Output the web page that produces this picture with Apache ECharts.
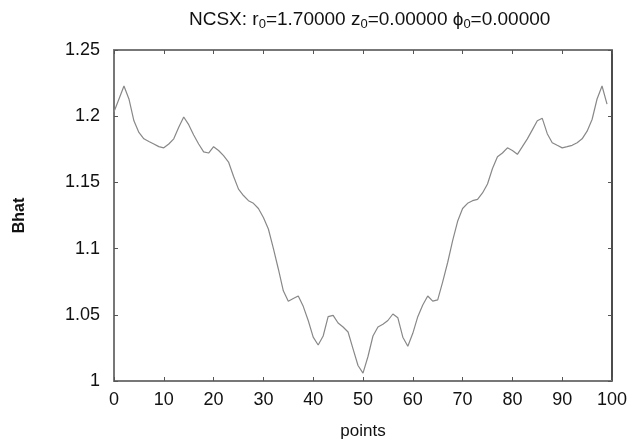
<!DOCTYPE html>
<html><head><meta charset="utf-8">
<script src="https://cdn.jsdelivr.net/npm/echarts@6/dist/echarts.min.js"></script>
<style>html,body{margin:0;padding:0;background:#fff}#c{width:632px;height:446px}</style>
</head><body><div id="c"></div>
<script>
const xTicks = [0,10,20,30,40,50,60,70,80,90,100];
const yTicks = [1,1.05,1.1,1.15,1.2,1.25];
const bhat = [
1.2033,1.213,1.2228,1.213,1.1965,1.1877,1.1829,1.1809,1.179,1.177,
1.1761,1.179,1.1829,1.1916,1.1994,1.1936,1.1858,1.179,1.1731,1.1722,
1.177,1.1741,1.1702,1.1654,1.1547,1.1449,1.1401,1.1362,1.1342,1.1303,
1.1235,1.1148,1.1002,1.0846,1.0681,1.0603,1.0623,1.0642,1.0564,1.0457,
1.0331,1.0272,1.034,1.0486,1.0496,1.0438,1.0408,1.037,1.0243,1.0117,
1.006,1.0185,1.034,1.0408,1.0428,1.0457,1.0506,1.0477,1.0331,1.0263,
1.036,1.0486,1.0574,1.0642,1.0603,1.0613,1.0749,1.0895,1.106,1.1206,
1.1303,1.1342,1.1362,1.1372,1.142,1.1488,1.1605,1.1693,1.1722,1.1761,
1.1741,1.1712,1.177,1.1829,1.1897,1.1965,1.1984,1.1868,1.18,1.178,
1.1761,1.177,1.178,1.18,1.1829,1.1887,1.1975,1.213,1.2228,1.2091
];
const points = bhat.map((v,i)=>[i,v]);
const FONT = 'Liberation Sans';
const axisCol = '#777';
const chart = echarts.init(document.getElementById('c'), null, {renderer:'canvas'});
function axis(extra){
  return Object.assign({
    axisLine:{show:true,onZero:false,lineStyle:{color:axisCol,width:2}},
    axisTick:{show:true,inside:true,length:4,lineStyle:{color:'#555',width:1}},
    splitLine:{show:false}
  },extra);
}
chart.setOption({
  animation:false,
  title:{
    text:'NCSX: r{s|0}=1.70000 z{s|0}=0.00000 ϕ{s|0}=0.00000',
    left:184, top:4,
    textStyle:{fontFamily:FONT,fontSize:19,fontWeight:'normal',color:'#111',
      rich:{s:{fontFamily:FONT,fontSize:13,color:'#111',padding:[9,0,0,0]}}}
  },
  grid:{left:114,right:20,top:50,bottom:65,containLabel:false},
  xAxis:[
    axis({type:'value',min:xTicks[0],max:xTicks[xTicks.length-1],interval:10,position:'bottom',
      name:'points',nameLocation:'middle',nameGap:42,
      nameTextStyle:{fontFamily:FONT,fontSize:17,color:'#111'},
      axisLabel:{fontFamily:FONT,fontSize:18,color:'#111',margin:10}}),
    axis({type:'value',min:xTicks[0],max:xTicks[xTicks.length-1],interval:10,position:'top',
      axisLabel:{show:false}})
  ],
  yAxis:[
    axis({type:'value',min:yTicks[0],max:yTicks[yTicks.length-1],interval:0.05,position:'left',
      name:'Bhat',nameLocation:'middle',nameGap:86,nameRotate:90,
      nameTextStyle:{fontFamily:FONT,fontSize:16,fontWeight:'bold',color:'#111'},
      axisLabel:{fontFamily:FONT,fontSize:18,color:'#111',margin:14,
        formatter:v=>String(Math.round(v*100)/100)}}),
    axis({type:'value',min:yTicks[0],max:yTicks[yTicks.length-1],interval:0.05,position:'right',
      axisLine:{show:true,onZero:false,lineStyle:{color:'#111',width:1.5}},
      axisLabel:{show:false}})
  ],
  series:[{
    type:'line',data:points,xAxisIndex:0,yAxisIndex:0,
    showSymbol:false,symbol:'none',
    lineStyle:{color:'#888',width:1.2},
    silent:true
  }]
});
</script></body></html>
